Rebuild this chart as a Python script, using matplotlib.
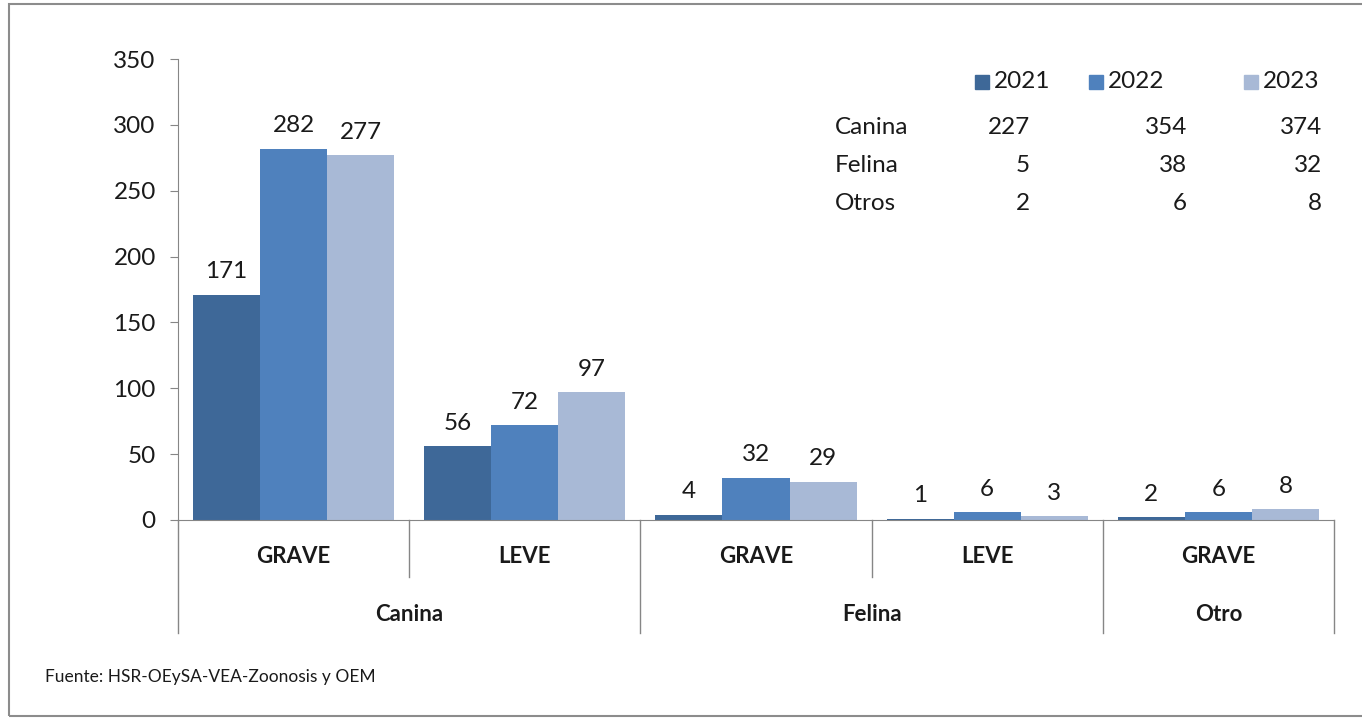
import matplotlib
matplotlib.use("Agg")
import matplotlib.pyplot as plt
from matplotlib.patches import Rectangle
import numpy as np

plt.rcParams['font.family'] = ['Lato', 'DejaVu Sans']

# data
categories = ["GRAVE", "LEVE", "GRAVE", "LEVE", "GRAVE"]
groups = ["Canina", "Felina", "Otro"]
group_sizes = [2, 2, 1]
years = ["2021", "2022", "2023"]
v2021 = [171, 56, 4, 1, 2]
v2022 = [282, 72, 32, 6, 6]
v2023 = [277, 97, 29, 3, 8]
colors = ["#3E6898", "#4F81BD", "#A8B9D6"]

table_rows = ["Canina", "Felina", "Otros"]
tot2021 = [227, 5, 2]
tot2022 = [354, 38, 6]
tot2023 = [374, 32, 8]

source = "Fuente: HSR-OEySA-VEA-Zoonosis y OEM"

W, H = 1362, 719
grey = "#868686"
ink = "#1a1a1a"
fs = 17.5

def fx(x):
	return x / W

def fy(y):
	return 1 - y / H

fig = plt.figure(figsize=(W / 100, H / 100), dpi=100)
ax = fig.add_axes([fx(178), fy(520), (1334 - 178) / W, (520 - 59) / H])

x = np.arange(len(categories))
width = 0.29
for i, (vals, c, yr) in enumerate(zip([v2021, v2022, v2023], colors, years)):
	bars = ax.bar(x + (i - 1) * width, vals, width, color=c, label=yr)
	for b, v in zip(bars, vals):
		ax.annotate(str(v), (b.get_x() + b.get_width() / 2, v), xytext=(0, 9),
			textcoords="offset points", ha="center", va="bottom", fontsize=fs, color=ink)

ax.set_xlim(-0.5, len(categories) - 0.5)
ax.set_ylim(0, 350)
ax.set_yticks(range(0, 351, 50))
ax.set_xticks([])
ax.tick_params(axis="y", length=6, color=grey, pad=10, labelsize=fs, labelcolor=ink)
for s in ["top", "right"]:
	ax.spines[s].set_visible(False)
for s in ["left", "bottom"]:
	ax.spines[s].set_color(grey)

# two-level category axis
trans = ax.get_xaxis_transform()
short_y = -0.124
long_y = -0.245
pos = -0.5
ax.plot([pos, pos], [0, long_y], transform=trans, clip_on=False, color=grey, lw=1)
for g, n in zip(groups, group_sizes):
	for k in range(n):
		ax.text(pos + 0.5 + k, -0.08, categories[int(pos + 0.5) + k], transform=trans,
			ha="center", va="center", fontsize=16, fontweight="bold", color=ink)
		if k < n - 1:
			ax.plot([pos + k + 1] * 2, [0, short_y], transform=trans, clip_on=False, color=grey, lw=1)
	ax.text(pos + n / 2, -0.204, g, transform=trans, ha="center", va="center",
		fontsize=16, fontweight="bold", color=ink)
	pos += n
	ax.plot([pos, pos], [0, long_y], transform=trans, clip_on=False, color=grey, lw=1)

# legend row
legend_text_x = [994, 1108, 1263]
for yr, c, tx in zip(years, colors, legend_text_x):
	fig.add_artist(Rectangle((fx(tx - 19), fy(89)), 14 / W, 14 / H, transform=fig.transFigure,
		color=c))
	fig.text(fx(tx), fy(82), yr, ha="left", va="center", fontsize=fs, color=ink)

# totals table
row_y = [127, 165, 204]
col_right = [1030, 1187, 1322]
for r, lab in enumerate(table_rows):
	fig.text(fx(835), fy(row_y[r]), lab, ha="left", va="center", fontsize=fs, color=ink)
	for col, vals in zip(col_right, [tot2021, tot2022, tot2023]):
		fig.text(fx(col), fy(row_y[r]), str(vals[r]), ha="right", va="center", fontsize=fs,
			color=ink)

fig.text(fx(45), fy(677), source, ha="left", va="center", fontsize=12.5, color=ink)

# outer chart frame
fig.add_artist(Rectangle((fx(9), fy(716)), 1.1, (716 - 4) / H, transform=fig.transFigure,
	fill=False, ec="#8c8c8c", lw=1.5))

fig.savefig("out.png", dpi=100)
